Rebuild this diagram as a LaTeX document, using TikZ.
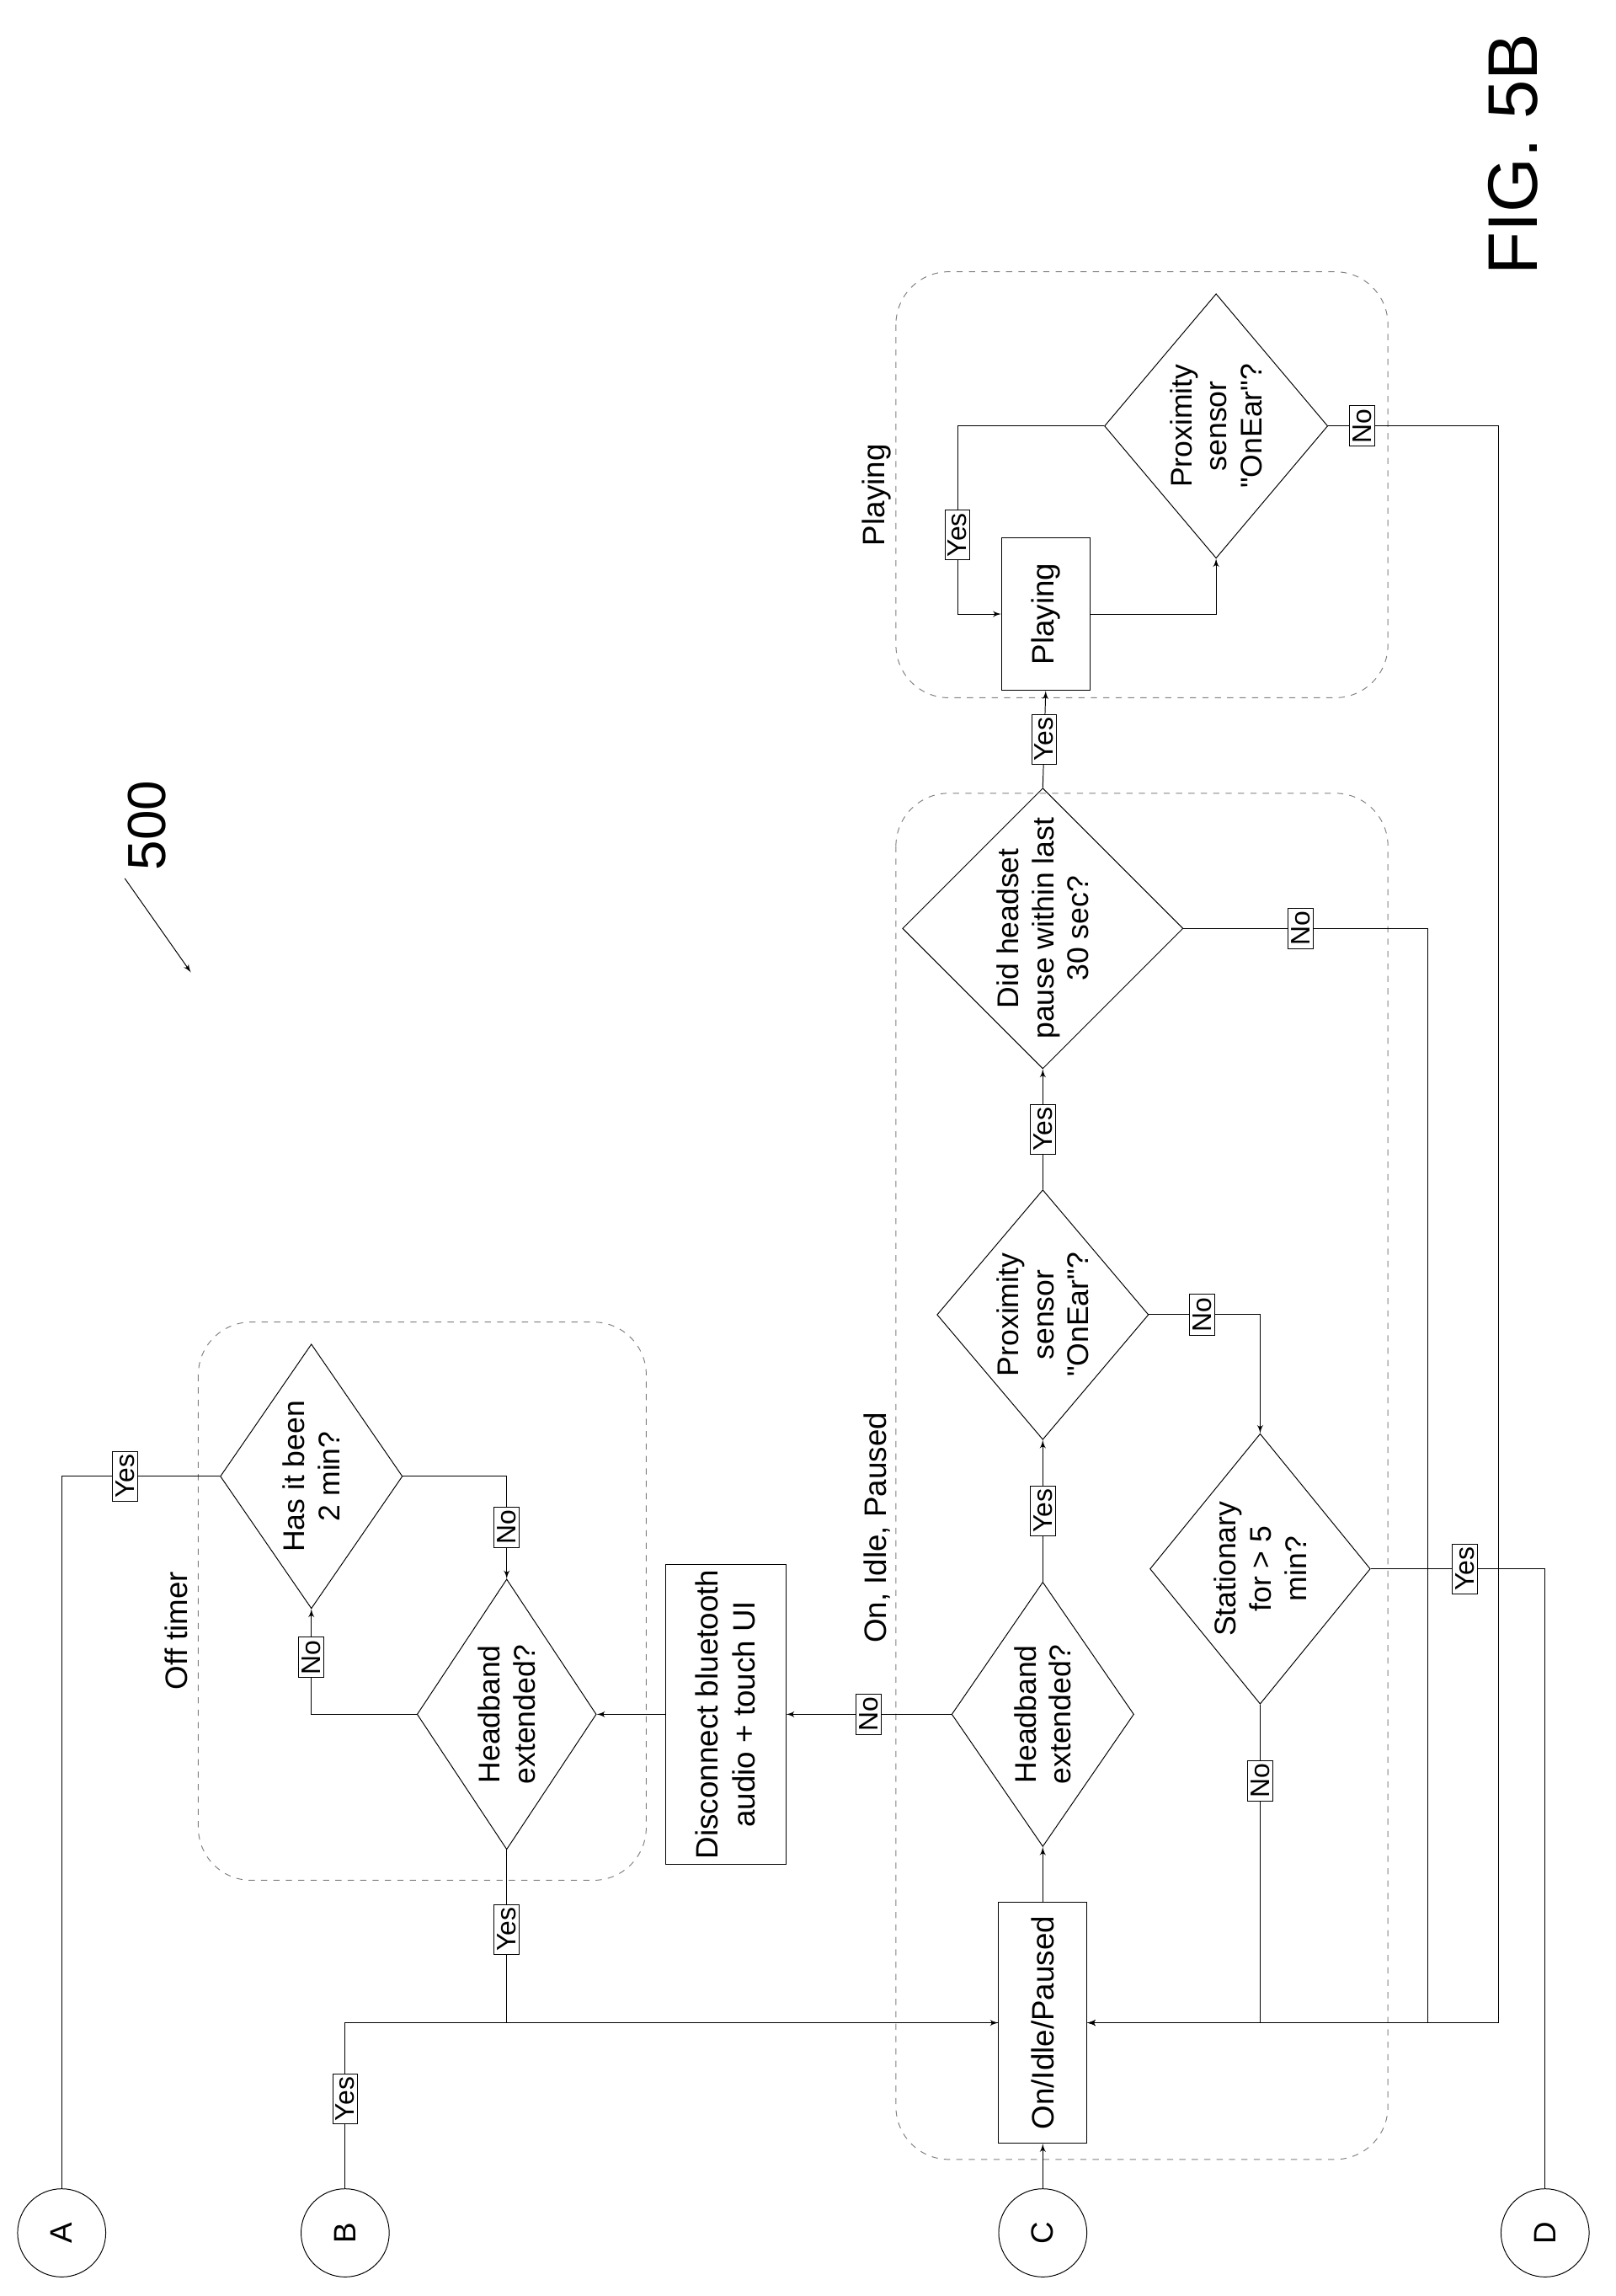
\documentclass[tikz,border=0pt]{standalone}
\usepackage{fontspec}
\setmainfont{Liberation Sans}
\usetikzlibrary{shapes,arrows}

\begin{document}
\begin{tikzpicture}[x=0.025cm, y=-0.025cm, font=\fontsize{15}{18}\selectfont]
        \tikzstyle{decision} = [diamond, draw, align=center, inner sep=-4pt, rotate=90, font=\fontsize{14.5}{17}\selectfont]
        \tikzstyle{block} = [rectangle, draw, align=center, inner sep=2pt, rotate=90]
        \tikzstyle{terminal} = [circle, draw, minimum size=1.5cm, inner sep=0pt, rotate=90]
        \tikzstyle{tag} = [draw, fill=white, inner sep=1.5pt, rotate=90, font=\fontsize{13}{15}\selectfont]
        \tikzstyle{group} = [draw, dashed, gray, rounded corners=0.9cm]
        \tikzstyle{line} = [draw, -latex']
    \useasboundingbox (0,0) rectangle (1100,1563);

    % groups
    \draw [group] (135,900) rectangle (440,1280);
    \draw [group] (610,540) rectangle (945,1470);
    \draw [group] (610,185) rectangle (945,475);
    \node [rotate=90] (off timer label) at (120,1110) {Off timer};
    \node [rotate=90] (on idle label) at (597,1040) {On, Idle, Paused};
    \node [rotate=90] (playing label) at (597,337) {Playing};

    \node [rotate=90, font=\fontsize{34}{36}\selectfont] (fig) at (1030,105) {FIG. 5B};
    \node [rotate=90, font=\fontsize{26}{28}\selectfont] (ref) at (100,562) {500};
    \coordinate (ref tip) at (130,662);
    \path [line] (85,598) -- (ref tip);

    \node [terminal] (circ A) at (42,1520) {A};
    \node [terminal] (circ B) at (235,1520) {B};
    \node [terminal] (circ C) at (710,1520) {C};
    \node [terminal] (circ D) at (1052,1520) {D};

    \node [decision, minimum width=4.5cm, minimum height=3.1cm] (has two min) at (212,1005) {Has it been\\2 min?};
    \node [decision, minimum width=4.6cm, minimum height=3.05cm] (off headband) at (345,1167) {Headband\\extended?};
    \node [block, minimum width=5.1cm, minimum height=2.05cm] (disconnect) at (494,1167) {Disconnect bluetooth\\audio + touch UI};
    \node [block, minimum width=4.1cm, minimum height=1.5cm] (on idle) at (710,1377) {On/Idle/Paused};
    \node [decision, minimum width=4.5cm, minimum height=3.1cm] (on headband) at (710,1167) {Headband\\extended?};
    \node [decision, minimum width=4.25cm, minimum height=3.6cm] (proximity) at (710,895) {Proximity\\sensor\\\textquotedbl OnEar\textquotedbl ?};
    \node [decision, minimum width=4.6cm, minimum height=3.75cm] (stationary) at (858,1068) {Stationary\\for > 5\\min?};
    \node [decision, minimum width=4.6cm, minimum height=4.75cm] (did pause) at (710,632) {Did headset\\pause within last\\30 sec?};
    \node [block, minimum width=2.6cm, minimum height=1.5cm] (playing) at (712,418) {Playing};
    \node [decision, minimum width=4.5cm, minimum height=3.8cm] (play check) at (828,290) {Proximity\\sensor\\\textquotedbl OnEar\textquotedbl ?};

    \coordinate (join pause) at (972,1377);
    \coordinate (join play) at (1020,1377);
    \coordinate (loop yes) at (652,290);

    \path [draw] (has two min.north) -| node [tag, pos=0.3] {Yes} (circ A);
    \path [line] (off headband.north) -| node [tag, pos=0.77] {No} (has two min.west);
    \path [line] (has two min.south) -| node [tag, pos=0.75] {No} (off headband.east);
    \path [line] (off headband.west) |- node [tag, pos=0.23] {Yes} (on idle.north);
    \path [draw] (circ B) |- node [tag, pos=0.27] {Yes} (on idle.north);
    \path [line] (circ C) -- (on idle);
    \path [line] (on idle.east) -- (on headband.west);
    \path [line] (on headband.north) -- node [tag] {No} (disconnect.south);
    \path [line] (disconnect.north) -- (off headband.south);
    \path [line] (on headband.east) -- node [tag] {Yes} (proximity.west);
    \path [line] (proximity.east) -- node [tag] {Yes} (did pause.west);
    \path [line] (did pause.east) -- node [tag] {Yes} (playing.west);
    \path [line] (proximity.south) -| node [tag, pos=0.24] {No} (stationary.east);
    \path [line] (stationary.west) |- node [tag, pos=0.12] {No} (on idle.south);
    \path [draw] (stationary.south) -| node [tag, pos=0.27] {Yes} (circ D);
    \path [line] (did pause.south) -| node [tag, pos=0.24] {No} (join pause) -- (on idle.south);
    \path [line] (play check.south) -| node [tag, pos=0.1] {No} (join play) -- (on idle.south);
    \path [line] (playing.south) -| (play check.west);
    \path [line] (play check.north) -- (loop yes) |- node [tag, pos=0.29] {Yes} (playing.north);
\end{tikzpicture}
\end{document}
